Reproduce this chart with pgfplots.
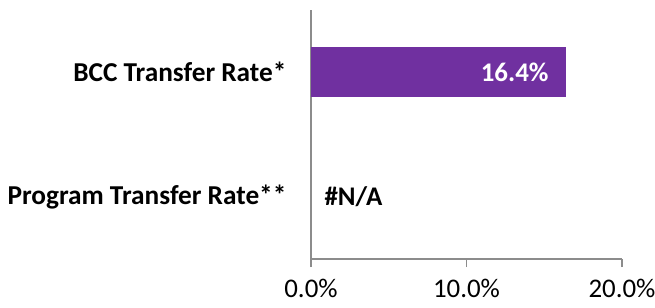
\documentclass[border=0pt]{standalone}
\usepackage{pgfplots}
\pgfplotsset{compat=1.18}
\usepackage{fontspec}
\setmainfont{Carlito}
\definecolor{barpurple}{HTML}{7030A0}
\definecolor{axgray}{HTML}{8C8C8C}
\begin{document}
\begin{tikzpicture}
\pgfplotstableread{
y val
1 16.4
}\bccdata
\useasboundingbox (-311bp,-49bp) rectangle (344bp,259bp);
\begin{axis}[
  at={(0,0)}, anchor=south west,
  scale only axis,
  width=311bp, height=249bp,
  xmin=0, xmax=20,
  ymin=-0.5, ymax=1.5,
  xbar, bar width=0.4,
  axis x line*=bottom,
  axis y line*=left,
  axis line style={axgray, line width=1.3pt, -},
  xtick={0,10,20},
  xticklabels={0.0\%,10.0\%,20.0\%},
  xtick style={axgray, line width=1.3pt},
  major tick length=8bp,
  xtick align=outside,
  ytick={0,1},
  yticklabels={Program Transfer Rate**,BCC Transfer Rate*},
  ytick style={draw=none},
  yticklabel style={font=\fontsize{27.4pt}{30pt}\selectfont\bfseries, xshift=-13bp},
  xticklabel style={font=\fontsize{27pt}{30pt}\selectfont, yshift=-9bp},
  /pgf/number format/assume math mode=true,
  nodes near coords={\pgfmathprintnumber[fixed,precision=1,fixed zerofill]{\pgfplotspointmeta}\%},
  every node near coord/.append style={anchor=east, xshift=-14bp, text=white, font=\fontsize{27pt}{30pt}\selectfont\bfseries},
  clip=false,
]
\addplot[fill=barpurple, draw=none] table[x=val, y=y] {\bccdata};
\node[anchor=west, font=\fontsize{27pt}{30pt}\selectfont\bfseries] at (axis cs:0,0) [xshift=10bp] {\#N/A};
\end{axis}
\end{tikzpicture}
\end{document}
